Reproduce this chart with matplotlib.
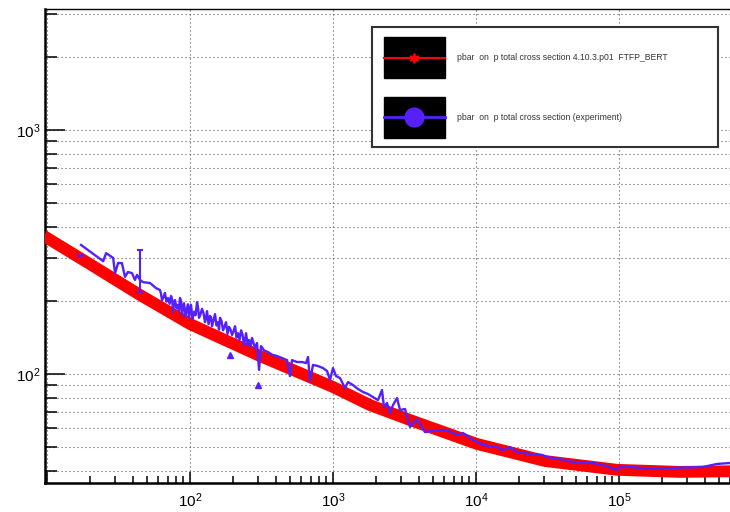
import numpy as np
import matplotlib
matplotlib.use("Agg")
import matplotlib.pyplot as plt
from matplotlib.ticker import LogLocator, FuncFormatter, NullFormatter
from matplotlib.patches import Rectangle

plt.rcParams['font.family'] = ['Liberation Sans', 'DejaVu Sans']
plt.rcParams['mathtext.fontset'] = 'custom'
plt.rcParams['mathtext.rm'] = 'Liberation Sans'
plt.rcParams['mathtext.it'] = 'Liberation Sans:italic'
plt.rcParams['mathtext.bf'] = 'Liberation Sans:bold'

# Geant4 FTFP_BERT prediction: pbar-p total cross section (mb) vs momentum
model_p = [9.5, 20.0, 44.7, 100, 175.7, 308.8, 587.6, 1000, 1814, 3455,
           10160, 30380, 96830, 267000, 968000]
model_xs = [368, 282, 210.8, 160.3, 137.8, 118.5, 101, 88.5, 74.6, 64.8,
            51.7, 44.0, 40.5, 39.7, 40.1]

# Measured pbar-p total cross section
exp_p = [17.3, 24.7, 25.9, 29.0, 29.9, 31.4, 33.4, 35.1, 36.8, 39.3,
         41.2, 42.6, 44.7, 46.9, 52.5, 57.8, 61.6, 62.6, 63.7, 65.2,
         66.8, 68.5, 70.2, 72.0, 73.7, 74.9, 76.1, 77.3, 78.6, 80.5,
         82.4, 83.7, 85.1, 86.5, 87.9, 89.3, 90.8, 93.0, 95.3, 96.8,
         98.4, 100, 101.6, 104.1, 106.7, 109.3, 112, 113.8, 115.6, 118.4,
         121.3, 124.2, 127.3, 129.4, 131.5, 134.7, 138, 140.2, 142.5, 146,
         149.6, 153.2, 157, 159.5, 162, 166, 170.2, 174.3, 178.6, 183,
         187.5, 192, 196.8, 201.6, 206.5, 211.5, 216.6, 222, 227.5, 233,
         238.7, 242.6, 246.6, 252.6, 258.7, 265, 271.5, 284.8, 294, 303.8,
         313.8, 329.2, 351.3, 374.5, 405.9, 439.9, 476.9, 500, 516.9, 560.2,
         607, 647.5, 668.7, 690, 724.6, 785.6, 851.3, 907.9, 952.8, 1000,
         1050, 1119, 1213, 1273, 1380, 1496, 1621, 1757, 1904, 2064,
         2201, 2273, 2386, 2504, 2628, 2803, 2942, 3188, 3455, 3868,
         4400, 5337, 6270, 7365, 8114, 9528, 11190, 14030, 15450, 17290,
         19350, 23850, 28940, 31380, 38680, 50850, 65810, 77310, 96830, 101600,
         119400, 172900, 227300, 386800, 484500, 597300, 824000]
exp_xs = [338, 290, 313, 299, 259, 285, 285, 250, 262, 259,
          243, 255, 243, 238, 236, 225, 221, 214, 201, 206,
          215, 198, 205, 194, 209, 203, 180, 196, 201, 186,
          192, 181, 205, 199, 175, 189, 195, 172, 186, 193,
          170, 184, 192, 168, 180, 174, 197, 187, 170, 176,
          185, 178, 163, 170, 181, 160, 173, 171, 157, 166,
          176, 158, 163, 152, 170, 165, 151, 157, 163, 146,
          156, 152, 144.5, 150, 157, 141, 147, 138, 151, 145,
          131, 139, 147, 132, 138, 129, 140.5, 127.8, 134, 104,
          130.2, 125, 123, 120, 118.5, 116.3, 114, 98.1, 114, 112,
          112, 110.9, 117.4, 93.6, 109, 107.8, 105.8, 102.9, 94.5, 105.8,
          98.1, 96.3, 87.6, 92.7, 90.1, 86.8, 84.4, 82.8, 80.5, 78.2,
          86, 73.2, 76.1, 69.2, 74.6, 79.7, 71.2, 71.9, 60.7, 65.4,
          57.8, 58.9, 58.9, 56.2, 57.3, 53.7, 51.2, 50.2, 48.8, 50.2,
          47.9, 47.0, 46.6, 45.7, 44.8, 43.2, 43.2, 42.4, 40.5, 41.6,
          41.6, 40.8, 41.2, 41.6, 42.8, 43.2, 43.6]

# Point with a large error bar
err_p = [44.7]
err_xs = [243]
err_lo = [26]
err_hi = [79]

# Isolated error-bar end marks
cap_p = [17.0]
cap_xs = [307]
low_p = [190.5, 299]
low_xs = [120, 90.1]

# Decades that carry a tick label
x_label_decades = [2, 3, 4, 5]
y_label_decades = [2, 3]

RED = '#ff0000'
BLUE = '#5521fb'
GRID = '#555555'

W, H = 730, 512
fig = plt.figure(figsize=(W / 100, H / 100), dpi=100)
ax = fig.add_axes([45 / W, 29 / H, (762 - 45) / W, 474 / H])
ax.set_xscale('log')
ax.set_yscale('log')
ax.set_xlim(9.68, 1.0e6)
ax.set_ylim(35.76, 3133)

ax.plot(model_p, model_xs, color=RED, lw=8.5, solid_capstyle='butt',
        solid_joinstyle='round', zorder=3)
ax.plot(exp_p, exp_xs, color=BLUE, lw=1.7, zorder=4)
ax.errorbar(err_p, err_xs, yerr=[err_lo, err_hi], fmt='none', ecolor=BLUE,
            elinewidth=1.5, capsize=2.5, capthick=1.5, zorder=4)
ax.plot(cap_p, cap_xs, ls='none', marker='_', ms=5, mew=2, color=BLUE, zorder=4)
ax.plot(low_p, low_xs, ls='none', marker='^', ms=4.5, color=BLUE, zorder=4)


def make_formatter(decades):
    def fmt(v, pos):
        k = int(round(np.log10(v)))
        if k not in decades:
            return ''
        return r'$\mathregular{10^{%d}}$' % k
    return FuncFormatter(fmt)


for axis, decs in ((ax.xaxis, x_label_decades), (ax.yaxis, y_label_decades)):
    axis.set_major_locator(LogLocator(base=10, numticks=20))
    axis.set_minor_locator(LogLocator(base=10, subs=np.arange(2, 10), numticks=20))
    axis.set_major_formatter(make_formatter(decs))
    axis.set_minor_formatter(NullFormatter())

ax.grid(True, which='major', axis='x', color=GRID, lw=0.8, dashes=(1, 2.6))
ax.grid(True, which='both', axis='y', color=GRID, lw=0.8, dashes=(1, 2.6))

ax.tick_params(axis='y', which='major', direction='in', length=14.4, width=1.1,
               pad=3, labelsize=11)
ax.tick_params(axis='y', which='minor', direction='in', length=8.6, width=1.1)
ax.tick_params(axis='x', which='major', direction='in', length=8, width=1.1,
               pad=6, labelsize=11)
ax.tick_params(axis='x', which='minor', direction='in', length=5, width=1.1)

ax.spines['left'].set_linewidth(1.8)
ax.spines['bottom'].set_linewidth(1.8)
ax.spines['top'].set_linewidth(1.0)
ax.spines['right'].set_linewidth(1.0)

# Legend panel
lax = fig.add_axes([372 / W, 1 - 147 / H, 346 / W, 120 / H])
lax.set_xlim(0, 346)
lax.set_ylim(120, 0)
lax.set_xticks([])
lax.set_yticks([])
for s in lax.spines.values():
    s.set_color('#333333')
    s.set_linewidth(1.5)

lax.add_patch(Rectangle((12, 10), 61, 41, color='black'))
lax.add_patch(Rectangle((12, 70), 61, 41, color='black'))
lax.plot([12, 73], [31, 31], color=RED, lw=1.5)
lax.plot([41.5], [31], ls='none', marker=(6, 2, 0), ms=7, mew=1.3, color=RED)
lax.plot([12, 73], [90, 90], color=BLUE, lw=2)
lax.plot([42], [90], ls='none', marker='o', ms=14.5, color=BLUE, mew=0)

lax.text(85, 31, 'pbar  on  p total cross section 4.10.3.p01  FTFP_BERT',
         fontsize=6.2, color='#333333', va='center', ha='left')
lax.text(85, 90, 'pbar  on  p total cross section (experiment)',
         fontsize=6.2, color='#333333', va='center', ha='left')

fig.savefig('out.png', dpi=100)
